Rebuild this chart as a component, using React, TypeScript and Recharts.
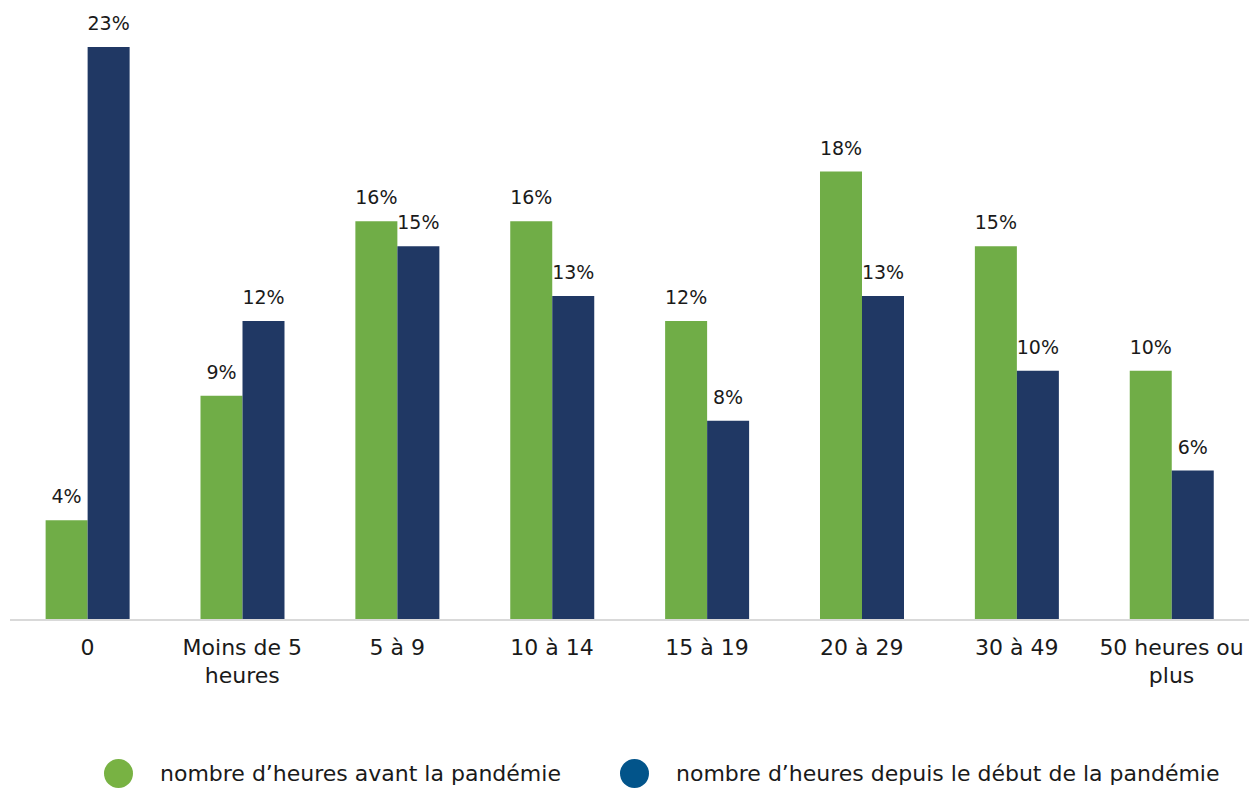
import React from "react";
import {Bar, BarChart, LabelList, Legend, XAxis, YAxis} from "recharts";

const categories = ["0", "Moins de 5 heures", "5 à 9", "10 à 14", "15 à 19", "20 à 29", "30 à 49", "50 heures ou plus"];
const tickLines = [["0"], ["Moins de 5", "heures"], ["5 à 9"], ["10 à 14"], ["15 à 19"], ["20 à 29"], ["30 à 49"], ["50 heures ou", "plus"]];
const avant = [4, 9, 16, 16, 12, 18, 15, 10];
const depuis = [23, 12, 15, 13, 8, 13, 10, 6];

const seriesNames = ["nombre d’heures avant la pandémie", "nombre d’heures depuis le début de la pandémie"];

const data = categories.map((c, i) => ({cat: c, avant: avant[i], depuis: depuis[i], idx: i}));

const FONT = "'DejaVu Sans', 'Noto Sans', sans-serif";

const WrappedTick = (props: any) => {
  const {x, y, index} = props;
  const lines = tickLines[index] || [String(props.payload.value)];
  return (
      <text x={x} y={y} textAnchor="middle" fill="#1a1a1a" style={{fontSize: 22, fontFamily: FONT}}>
        {lines.map((l: string, i: number) => (
            <tspan key={i} x={x} dy={i === 0 ? 27 : 28}>{l}</tspan>
        ))}
      </text>
  );
};

const legendColors = ["#78b243", "#02548a"];

const CustomLegend = () => (
    <div style={{position: "relative", height: 40, width: 1249, fontFamily: FONT, fontSize: 22, color: "#1a1a1a"}}>
      {seriesNames.map((n, i) => (
          <div key={n} style={{position: "absolute", left: i === 0 ? 104 : 620, top: 11, display: "flex", alignItems: "center"}}>
            <span style={{width: 29, height: 29, borderRadius: "50%", background: legendColors[i], display: "inline-block"}}/>
            <span style={{marginLeft: 27, whiteSpace: "nowrap"}}>{n}</span>
          </div>
      ))}
    </div>
);

const fmt = (v: any) => `${v}%`;

export default function App() {
  return (
      <div style={{position: "absolute", left: 0, top: 0}}>
        <BarChart width={1249} height={788} data={data}
                  margin={{top: 22, right: 0, left: 10, bottom: 0}}
                  barCategoryGap="23%" barGap={0}>
          <XAxis dataKey="cat" interval={0} tickLine={false} axisLine={{stroke: "#d9d9d9", strokeWidth: 2}}
                 tick={<WrappedTick/>} height={128}/>
          <YAxis hide domain={[0, 24]} allowDataOverflow/>
          <Legend verticalAlign="bottom" align="left" content={<CustomLegend/>}
                  wrapperStyle={{height: 40, left: 0, bottom: 0}}/>
          <Bar dataKey="avant" name={seriesNames[0]} fill="#70ad47" isAnimationActive={false}>
            <LabelList dataKey="avant" position="top" offset={17} formatter={fmt}
                       style={{fontSize: 19, fontFamily: FONT, fill: "#1a1a1a"}}/>
          </Bar>
          <Bar dataKey="depuis" name={seriesNames[1]} fill="#203864" isAnimationActive={false}>
            <LabelList dataKey="depuis" position="top" offset={17} formatter={fmt}
                       style={{fontSize: 19, fontFamily: FONT, fill: "#1a1a1a"}}/>
          </Bar>
        </BarChart>
      </div>
  );
}
